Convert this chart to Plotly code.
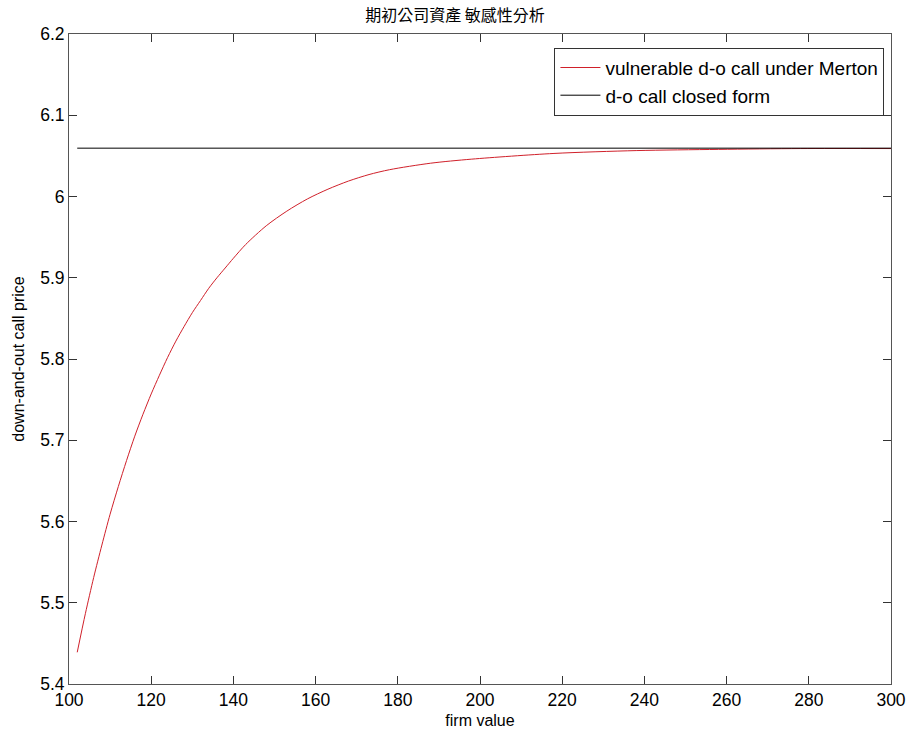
import plotly.graph_objects as go

# Firm value (x) and vulnerable down-and-out call price
firm_value = [102, 104, 106, 108, 110, 112, 114, 116, 118, 120,
              122, 124, 126, 128, 130, 132, 134, 136, 138, 140,
              143, 148, 153, 158, 163, 168, 173, 178, 188, 198,
              218, 238, 258, 278, 300]
vulnerable_price = [5.439, 5.487, 5.531, 5.571, 5.609, 5.643, 5.675, 5.705, 5.732, 5.757,
                    5.780, 5.802, 5.822, 5.840, 5.857, 5.872, 5.887, 5.900, 5.912, 5.924,
                    5.941, 5.964, 5.982, 5.997, 6.009, 6.019, 6.027, 6.033, 6.041, 6.046,
                    6.053, 6.0565, 6.058, 6.059, 6.059]

closed_form_x = [102, 300]
closed_form_price = [6.0595, 6.0595]

x_ticks = [100, 120, 140, 160, 180, 200, 220, 240, 260, 280, 300]
y_ticks = [5.4, 5.5, 5.6, 5.7, 5.8, 5.9, 6.0, 6.1, 6.2]
y_tick_text = ["5.4", "5.5", "5.6", "5.7", "5.8", "5.9", "6", "6.1", "6.2"]

title_text = "期初公司資產 敏感性分析"
x_label = "firm value"
y_label = "down-and-out call price"

fig = go.Figure()
fig.add_trace(go.Scatter(x=firm_value, y=vulnerable_price, mode="lines",
                         line=dict(color="#d0202a", width=1, shape="spline", smoothing=0.8),
                         name="vulnerable d-o call under Merton"))
fig.add_trace(go.Scatter(x=closed_form_x, y=closed_form_price, mode="lines",
                         line=dict(color="#000000", width=1),
                         name="d-o call closed form"))

axis_common = dict(showgrid=False, zeroline=False, showline=True, linecolor="#555555",
                   linewidth=1, mirror="ticks", ticks="inside", ticklen=8, automargin=False,
                   tickcolor="#333333", tickfont=dict(family="Liberation Sans, Arial", size=17.5, color="#000"))

fig.update_layout(
    width=910, height=740,
    paper_bgcolor="white", plot_bgcolor="white",
    margin=dict(l=69, r=19, t=34, b=56),
    title=dict(text=title_text, x=0.5, xanchor="center", y=0.979, yanchor="middle",
               font=dict(family="Noto Sans CJK TC", size=16, color="#000")),
    xaxis=dict(range=[100, 300], tickvals=x_ticks,
               title=dict(text=x_label, standoff=5, font=dict(family="Liberation Sans, Arial", size=16, color="#000")),
               **axis_common),
    yaxis=dict(range=[5.4, 6.2], tickvals=y_ticks, ticktext=y_tick_text,
               title=dict(text=y_label, standoff=11, font=dict(family="Liberation Sans, Arial", size=16, color="#000")),
               **axis_common),
    legend=dict(x=0.992, xanchor="right", y=0.979, yanchor="top",
                bgcolor="white", bordercolor="#333333", borderwidth=1,
                font=dict(family="Liberation Sans, Arial", size=19, color="#000"),
                tracegroupgap=0, itemwidth=40),
    showlegend=True,
)

fig.write_html("out.html")
